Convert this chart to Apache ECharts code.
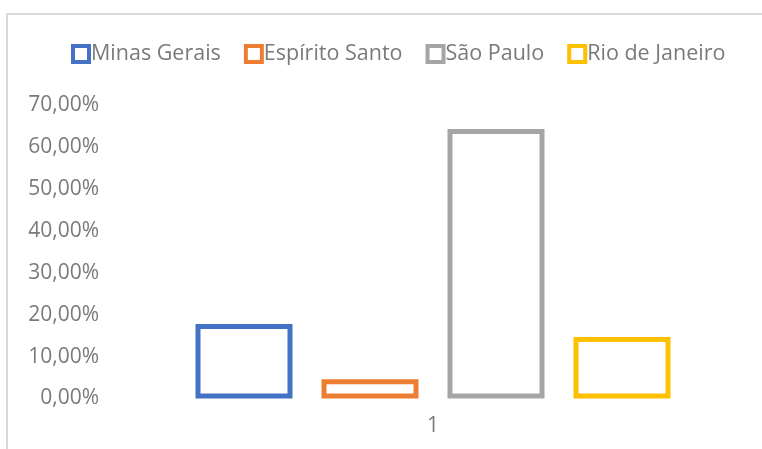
<!DOCTYPE html>
<html>
<head>
<meta charset="utf-8">
<script src="https://cdn.jsdelivr.net/npm/echarts@6/dist/echarts.min.js"></script>
<style>
html,body{margin:0;padding:0;background:#fff;}
#chart{width:762px;height:449px;}
#frame{position:absolute;left:6px;top:13px;width:800px;height:500px;border-left:2px solid #d9d9d9;border-top:2px solid #d9d9d9;pointer-events:none;}
</style>
</head>
<body>
<div id="chart"></div>
<div id="frame"></div>
<script>
const categories = ['1'];
const seriesNames = ['Minas Gerais', 'Espírito Santo', 'São Paulo', 'Rio de Janeiro'];
const seriesValues = [0.178, 0.046, 0.644, 0.147];
const colors = ['#4472C4', '#ED7D31', '#A5A5A5', '#FFC000'];
const yTicks = [0, 0.1, 0.2, 0.3, 0.4, 0.5, 0.6, 0.7];

const font = "'Open Sans', 'Noto Sans', sans-serif";
const textColor = '#7a7a7a';

const chart = echarts.init(document.getElementById('chart'), null, {renderer: 'canvas'});
chart.setOption({
  animation: false,
  backgroundColor: '#fff',
  legend: {
    left: 71,
    top: 43,
    padding: 0,
    itemWidth: 16,
    itemHeight: 16,
    itemGap: 23,
    icon: 'rect',
    textStyle: {fontFamily: font, fontSize: 21.5, color: textColor, padding: [0, 0, 0, -3]},
    itemStyle: {borderWidth: 4},
    data: seriesNames
  },
  grid: {left: 110, right: 6, top: 105.5, bottom: 50.5, containLabel: false},
  xAxis: {
    type: 'category',
    data: categories,
    axisLine: {show: false},
    axisTick: {show: false},
    axisLabel: {fontFamily: font, fontSize: 21, color: textColor, margin: 17}
  },
  yAxis: {
    type: 'value',
    min: yTicks[0],
    max: yTicks[yTicks.length - 1],
    interval: 0.1,
    splitLine: {show: false},
    axisLine: {show: false},
    axisTick: {show: false},
    axisLabel: {
      fontFamily: font, fontSize: 21, color: textColor, margin: 11,
      formatter: v => (v * 100).toFixed(2).replace('.', ',') + '%'
    }
  },
  series: seriesNames.map((name, i) => ({
    name: name,
    type: 'bar',
    data: [seriesValues[i]],
    barWidth: 97,
    barGap: '29.9%',
    itemStyle: {color: '#ffffff', borderColor: colors[i], borderWidth: 5}
  }))
});
</script>
</body>
</html>
